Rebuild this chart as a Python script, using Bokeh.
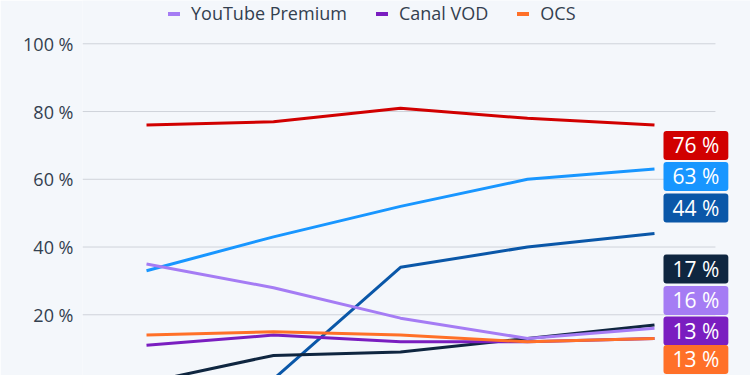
from bokeh.plotting import figure
from bokeh.models import Range1d, FixedTicker, PrintfTickFormatter, Legend, LegendItem, Label
from bokeh.embed import file_html
from bokeh.resources import INLINE
import numpy as np

FONT = "Open Sans"

years = [0, 1, 2, 3, 4]
netflix = [76, 77, 81, 78, 76]
prime = [33, 43, 52, 60, 63]
disney = [np.nan, 1, 34, 40, 44]
other = [0, 8, 9, 13, 17]
youtube = [35, 28, 19, 13, 16]
canal = [11, 14, 12, 12, 13]
ocs = [14, 15, 14, 12, 13]
y_ticks = [0, 20, 40, 60, 80, 100]

series = [
    ("Netflix", netflix, "#d10000"),
    ("Amazon Prime Video", prime, "#1896ff"),
    ("Disney+", disney, "#0a57a8"),
    ("Apple TV+", other, "#0f2640"),
    ("YouTube Premium", youtube, "#a57cf4"),
    ("Canal VOD", canal, "#7a1ec0"),
    ("OCS", ocs, "#ff7028"),
]

# label slot positions (layout, data units) in order of the series above
label_slots = [70.0, 60.8, 51.5, 33.5, 24.2, 15.2, 6.8]
X0, X1, GRID_END = -0.504, 4.756, 4.480

p = figure(width=750, height=375, output_backend="svg", toolbar_location=None,
           x_range=Range1d(X0, X1), y_range=Range1d(2.07, 112.78),
           min_border_left=82, min_border_right=0, min_border_top=0, min_border_bottom=0)
p.background_fill_color = "#f4f7fb"
p.border_fill_color = "#f4f7fb"
p.outline_line_color = None
p.xaxis.visible = False
p.xgrid.visible = False
p.ygrid.visible = False
p.yaxis.ticker = FixedTicker(ticks=y_ticks)
p.yaxis.formatter = PrintfTickFormatter(format="%d %%")
p.yaxis.axis_line_color = None
p.yaxis.major_tick_line_color = None
p.yaxis.minor_tick_line_color = None
p.yaxis.major_label_standoff = 3
p.yaxis.major_label_text_font = FONT
p.yaxis.major_label_text_font_size = "18px"
p.yaxis.major_label_text_color = "#33404f"

# horizontal gridlines (ending before the value labels)
p.segment(x0=[X0] * len(y_ticks), x1=[GRID_END] * len(y_ticks), y0=y_ticks, y1=y_ticks,
          line_color="#cfd3da", line_width=1)

for name, vals, col in series:
    p.line(years, vals, line_color=col, line_width=3)

for (name, vals, col), slot in zip(series, label_slots):
    last = [v for v in vals if not np.isnan(v)][-1]
    lab = Label(x=years[-1], y=slot, x_offset=9, text=f"{int(last)} %",
                text_font=FONT, text_font_size="21px", text_color="white",
                text_baseline="middle", text_align="left",
                background_fill_color=col, border_radius=3, padding=[9, 9, 0, 1])
    p.add_layout(lab)

items = []
for name, vals, col in series[4:]:
    r = p.quad(left=[np.nan], right=[np.nan], top=[np.nan], bottom=[np.nan],
               fill_color=col, line_color=None)
    items.append(LegendItem(label=name, renderers=[r]))

legend = Legend(items=items, orientation="horizontal", location=(84, 350),
                glyph_width=15, glyph_height=5, label_standoff=10, spacing=27,
                padding=0, margin=0, background_fill_alpha=0, border_line_color=None,
                label_text_font=FONT, label_text_font_size="18px", label_text_color="#33404f",
                label_height=20)
p.add_layout(legend)

open("out.html", "w").write(file_html(p, INLINE))
